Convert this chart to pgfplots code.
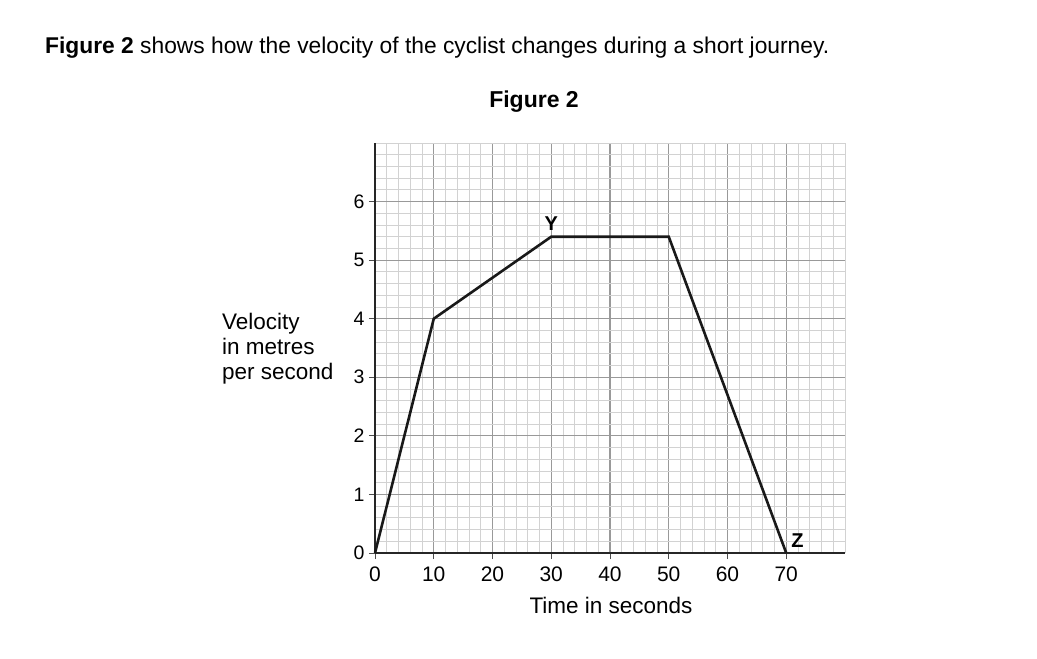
\documentclass[border=0pt]{standalone}
\usepackage{fontspec}
\setmainfont{Liberation Sans}
\usepackage{pgfplots}
\pgfplotsset{compat=1.18}
\usetikzlibrary{calc}

\begin{document}
\begin{tikzpicture}
\begin{axis}[
    scale only axis,
    width=470pt, height=410pt,
    xmin=0, xmax=80, ymin=0, ymax=7,
    xtick={0,10,...,70}, ytick={0,1,...,6},
    minor xtick={0,2,...,80}, minor ytick={0,0.2,...,7.01},
    grid=both,
    major grid style={gray!80, line width=1.1pt},
    minor grid style={gray!35, line width=0.8pt},
    axis x line*=bottom, axis y line*=left,
    axis line style={black!85, line width=2.2pt, -},
    tick align=outside, major tick length=6pt, minor tick length=0pt,
    tick style={black!70, line width=0.8pt},
    /pgf/number format/assume math mode=true,
    xticklabel style={font=\fontsize{21}{24}\selectfont, yshift=-4pt},
    yticklabel style={font=\fontsize{19.5}{22}\selectfont, xshift=-1pt},
    clip=false,
]
\addplot[black!90, line width=2.6pt] coordinates {(0,0) (10,4) (30,5.4) (50,5.4) (70,0)};
\node[anchor=south, font=\bfseries\fontsize{20}{24}\selectfont, inner sep=0pt] at ([yshift=6pt]axis cs:30,5.4) {Y};
\node[anchor=south west, font=\bfseries\fontsize{20}{24}\selectfont, inner sep=0pt] at ([xshift=5pt,yshift=5pt]axis cs:70,0) {Z};
\coordinate (O) at (rel axis cs:0,0);
\end{axis}
\node[anchor=base west, font=\fontsize{22.8}{26}\selectfont, inner sep=0pt] at ($(O)+(-330pt,499pt)$) {\textbf{Figure 2} shows how the velocity of the cyclist changes during a short journey.};
\node[anchor=base, font=\bfseries\fontsize{23}{26}\selectfont, inner sep=0pt] at ($(O)+(159pt,445pt)$) {Figure 2};
\node[anchor=north west, align=left, font=\fontsize{22.5}{25}\selectfont, inner sep=0pt] at ($(O)+(-153pt,240pt)$) {Velocity\\in metres\\per second};
\node[anchor=base, font=\fontsize{22.5}{26}\selectfont, inner sep=0pt] at ($(O)+(236pt,-60pt)$) {Time in seconds};
\path[use as bounding box] ($(O)+(-375pt,-106pt)$) rectangle ($(O)+(662pt,553pt)$);
\end{tikzpicture}
\end{document}
